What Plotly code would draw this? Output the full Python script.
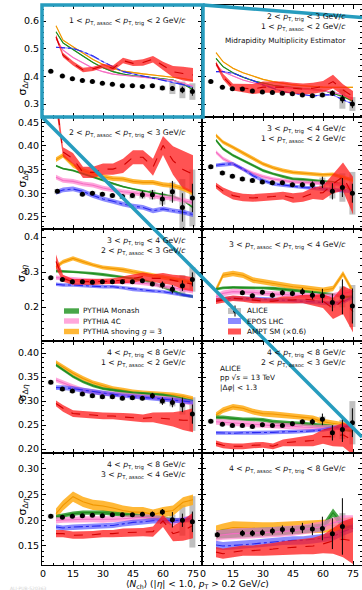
import plotly.graph_objects as go
from plotly.subplots import make_subplots

# ---------------- data ----------------
MODEL_X = [6.5, 10, 15, 20, 25, 30, 35, 40, 45, 50, 55, 60, 65, 70, 75]

X_FULL = [3.9, 9.7, 14.7, 19.7, 24.7, 29.7, 34.7, 39.7, 44.7, 49.7, 54.7, 59.7, 64.7, 69.7, 74.7]
X_MERGED_A = [7.2, 19.7, 24.7, 29.7, 34.7, 39.7, 44.7, 49.7, 54.7, 59.7, 64.7, 69.7, 74.7]
X_HIGH = [19.7, 24.7, 29.7, 34.7, 39.7, 44.7, 49.7, 54.7, 59.7, 64.7, 69.7, 74.7]
X_MERGED_B = [7.2, 19.7, 24.7, 29.7, 34.7, 39.7, 44.7, 49.7, 54.7, 59.7, 64.7, 69.7]

ALICE_X = [X_FULL, X_FULL, X_MERGED_A, X_FULL, X_FULL, X_HIGH, X_FULL, X_FULL, X_FULL, X_MERGED_B]

ALICE_Y = [
    [0.418, 0.401, 0.391, 0.385, 0.381, 0.375, 0.371, 0.366, 0.366, 0.363, 0.366, 0.358, 0.356, 0.351, 0.345],
    [0.381, 0.361, 0.355, 0.354, 0.347, 0.343, 0.342, 0.339, 0.337, 0.333, 0.330, 0.333, 0.339, 0.318, 0.300],
    [0.304, 0.298, 0.300, 0.298, 0.295, 0.293, 0.295, 0.297, 0.297, 0.288, 0.303, 0.270, 0.290],
    [0.356, 0.343, 0.336, 0.330, 0.327, 0.324, 0.322, 0.322, 0.318, 0.318, 0.318, 0.323, 0.304, 0.312, 0.300],
    [0.284, 0.279, 0.272, 0.272, 0.271, 0.272, 0.272, 0.272, 0.272, 0.275, 0.266, 0.263, 0.251, 0.261, 0.279],
    [0.241, 0.232, 0.242, 0.234, 0.241, 0.239, 0.244, 0.234, 0.232, 0.213, 0.229, 0.203],
    [0.339, 0.325, 0.321, 0.315, 0.311, 0.309, 0.309, 0.306, 0.307, 0.306, 0.311, 0.300, 0.297, 0.292, 0.273],
    [0.258, 0.252, 0.249, 0.249, 0.247, 0.251, 0.249, 0.249, 0.253, 0.257, 0.257, 0.262, 0.234, 0.241, 0.255],
    [0.208, 0.206, 0.208, 0.209, 0.210, 0.209, 0.211, 0.211, 0.211, 0.212, 0.212, 0.216, 0.201, 0.200, 0.197],
    [0.172, 0.175, 0.175, 0.176, 0.179, 0.182, 0.181, 0.185, 0.183, 0.184, 0.174, 0.188],
]
ALICE_STAT = [
    [0.002, 0.002, 0.002, 0.002, 0.002, 0.002, 0.003, 0.003, 0.003, 0.004, 0.005, 0.006, 0.008, 0.012, 0.015],
    [0.002, 0.002, 0.002, 0.002, 0.002, 0.002, 0.002, 0.003, 0.003, 0.004, 0.005, 0.007, 0.010, 0.015, 0.015],
    [0.003, 0.003, 0.003, 0.003, 0.003, 0.004, 0.005, 0.008, 0.010, 0.015, 0.023, 0.030, 0.030],
    [0.002, 0.002, 0.002, 0.002, 0.002, 0.002, 0.003, 0.003, 0.004, 0.005, 0.007, 0.012, 0.017, 0.020, 0.020],
    [0.002, 0.002, 0.002, 0.002, 0.002, 0.002, 0.002, 0.002, 0.002, 0.004, 0.006, 0.010, 0.012, 0.015, 0.020],
    [0.006, 0.006, 0.006, 0.007, 0.008, 0.008, 0.010, 0.012, 0.020, 0.025, 0.050, 0.050],
    [0.002, 0.002, 0.002, 0.002, 0.002, 0.002, 0.002, 0.002, 0.002, 0.004, 0.006, 0.008, 0.010, 0.015, 0.020],
    [0.002, 0.002, 0.002, 0.002, 0.002, 0.002, 0.002, 0.002, 0.002, 0.004, 0.006, 0.012, 0.016, 0.026, 0.030],
    [0.002, 0.002, 0.002, 0.002, 0.002, 0.002, 0.002, 0.002, 0.002, 0.002, 0.005, 0.006, 0.015, 0.013, 0.020],
    [0.005, 0.006, 0.006, 0.006, 0.007, 0.008, 0.008, 0.010, 0.012, 0.023, 0.030, 0.055],
]
ALICE_SYS = [
    [0.005, 0.004, 0.004, 0.004, 0.004, 0.004, 0.004, 0.004, 0.005, 0.005, 0.006, 0.008, 0.020, 0.030, 0.030],
    [0.005, 0.004, 0.004, 0.004, 0.004, 0.004, 0.004, 0.004, 0.005, 0.005, 0.006, 0.008, 0.010, 0.035, 0.025],
    [0.005, 0.004, 0.004, 0.004, 0.004, 0.005, 0.006, 0.008, 0.010, 0.012, 0.020, 0.060, 0.060],
    [0.004, 0.004, 0.004, 0.004, 0.004, 0.004, 0.004, 0.005, 0.005, 0.006, 0.007, 0.010, 0.015, 0.030, 0.045],
    [0.004, 0.004, 0.004, 0.004, 0.004, 0.004, 0.004, 0.004, 0.004, 0.004, 0.006, 0.008, 0.010, 0.030, 0.035],
    [0.005, 0.005, 0.005, 0.005, 0.005, 0.005, 0.006, 0.008, 0.010, 0.015, 0.030, 0.060],
    [0.004, 0.004, 0.004, 0.004, 0.004, 0.004, 0.004, 0.004, 0.004, 0.004, 0.005, 0.006, 0.008, 0.020, 0.035],
    [0.004, 0.004, 0.004, 0.004, 0.004, 0.004, 0.004, 0.004, 0.004, 0.004, 0.005, 0.006, 0.010, 0.020, 0.045],
    [0.004, 0.004, 0.004, 0.004, 0.004, 0.004, 0.004, 0.004, 0.004, 0.004, 0.005, 0.006, 0.010, 0.030, 0.050],
    [0.004, 0.004, 0.004, 0.004, 0.004, 0.005, 0.005, 0.006, 0.007, 0.008, 0.010, 0.026],
]

SHOVING = [
    [0.583, 0.531, 0.507, 0.485, 0.461, 0.443, 0.429, 0.419, 0.413, 0.409, 0.405, 0.401, 0.397, 0.392, 0.385],
    [0.486, 0.453, 0.429, 0.413, 0.401, 0.389, 0.381, 0.375, 0.369, 0.366, 0.363, 0.361, 0.360, 0.360, 0.360],
    [0.371, 0.380, 0.359, 0.348, 0.341, 0.335, 0.331, 0.330, 0.325, 0.323, 0.323, 0.318, 0.316, 0.310, 0.300],
    [0.422, 0.408, 0.397, 0.385, 0.373, 0.362, 0.354, 0.348, 0.344, 0.342, 0.341, 0.339, 0.340, 0.334, 0.327],
    [0.315, 0.329, 0.339, 0.329, 0.320, 0.313, 0.310, 0.307, 0.301, 0.296, 0.291, 0.287, 0.282, 0.275, 0.270],
    [0.249, 0.291, 0.296, 0.291, 0.277, 0.272, 0.267, 0.263, 0.258, 0.255, 0.251, 0.248, 0.253, 0.295, 0.244],
    [0.380, 0.371, 0.358, 0.347, 0.338, 0.332, 0.326, 0.323, 0.319, 0.317, 0.316, 0.315, 0.313, 0.310, 0.305],
    [0.271, 0.281, 0.288, 0.285, 0.278, 0.274, 0.273, 0.271, 0.269, 0.267, 0.264, 0.257, 0.254, 0.251, 0.247],
    [0.213, 0.229, 0.246, 0.236, 0.230, 0.228, 0.224, 0.219, 0.216, 0.216, 0.211, 0.216, 0.219, 0.235, 0.240],
    [0.178, 0.182, 0.186, 0.185, 0.184, 0.184, 0.184, 0.185, 0.186, 0.186, 0.187, 0.188, 0.190, 0.192, 0.195],
]
MONASH = [
    [0.561, 0.521, 0.497, 0.473, 0.450, 0.431, 0.417, 0.408, 0.402, 0.399, 0.395, 0.390, 0.387, 0.372, 0.352],
    [0.465, 0.435, 0.413, 0.397, 0.384, 0.375, 0.368, 0.363, 0.360, 0.357, 0.354, 0.349, 0.339, 0.327, 0.310],
    [0.358, 0.352, 0.348, 0.341, 0.334, 0.327, 0.320, 0.314, 0.309, 0.305, 0.302, 0.298, 0.293, 0.285, 0.270],
    [0.412, 0.394, 0.380, 0.369, 0.359, 0.348, 0.341, 0.335, 0.330, 0.329, 0.327, 0.326, 0.323, 0.318, 0.305],
    [0.303, 0.302, 0.301, 0.299, 0.296, 0.293, 0.289, 0.287, 0.282, 0.277, 0.268, 0.258, 0.246, 0.235, 0.230],
    [0.251, 0.255, 0.256, 0.256, 0.255, 0.255, 0.254, 0.251, 0.248, 0.245, 0.244, 0.240, 0.236, 0.229, 0.229],
    [0.375, 0.365, 0.351, 0.340, 0.332, 0.326, 0.323, 0.319, 0.317, 0.316, 0.315, 0.313, 0.309, 0.305, 0.300],
    [0.266, 0.266, 0.264, 0.262, 0.262, 0.261, 0.257, 0.255, 0.254, 0.253, 0.251, 0.249, 0.247, 0.243, 0.238],
    [0.207, 0.210, 0.213, 0.215, 0.215, 0.215, 0.213, 0.211, 0.209, 0.208, 0.206, 0.204, 0.200, 0.200, 0.200],
    [0.172, 0.174, 0.175, 0.176, 0.176, 0.177, 0.178, 0.179, 0.180, 0.182, 0.184, 0.186, 0.215, 0.190, 0.195],
]
PYTHIA_4C = [
    [0.537, 0.495, 0.468, 0.447, 0.429, 0.417, 0.408, 0.404, 0.400, 0.397, 0.393, 0.390, 0.385, 0.375, 0.365],
    [0.441, 0.417, 0.401, 0.387, 0.377, 0.369, 0.363, 0.360, 0.357, 0.354, 0.351, 0.349, 0.342, 0.333, 0.320],
    [0.334, 0.327, 0.325, 0.320, 0.317, 0.311, 0.307, 0.303, 0.301, 0.298, 0.295, 0.291, 0.290, 0.285, 0.280],
    [0.387, 0.373, 0.362, 0.351, 0.342, 0.335, 0.330, 0.327, 0.324, 0.323, 0.322, 0.321, 0.320, 0.317, 0.312],
    [0.284, 0.282, 0.279, 0.277, 0.275, 0.273, 0.272, 0.271, 0.271, 0.268, 0.265, 0.260, 0.256, 0.250, 0.245],
    [0.229, 0.239, 0.244, 0.244, 0.242, 0.239, 0.238, 0.237, 0.234, 0.232, 0.232, 0.229, 0.232, 0.239, 0.244],
    [0.344, 0.338, 0.330, 0.323, 0.319, 0.316, 0.315, 0.313, 0.311, 0.309, 0.308, 0.306, 0.304, 0.300, 0.295],
    [0.257, 0.256, 0.254, 0.253, 0.251, 0.250, 0.249, 0.249, 0.247, 0.246, 0.245, 0.244, 0.244, 0.246, 0.247],
    [0.200, 0.201, 0.201, 0.202, 0.202, 0.201, 0.202, 0.203, 0.205, 0.206, 0.205, 0.202, 0.196, 0.200, 0.205],
    [0.170, 0.172, 0.174, 0.175, 0.175, 0.176, 0.177, 0.178, 0.180, 0.182, 0.185, 0.188, 0.195, 0.200, 0.200],
]
EPOS = [
    [0.505, 0.503, 0.501, 0.489, 0.474, 0.453, 0.435, 0.417, 0.409, 0.401, 0.393, 0.387, 0.377, 0.370, 0.360],
    [0.417, 0.417, 0.411, 0.399, 0.385, 0.369, 0.357, 0.345, 0.339, 0.333, 0.329, 0.333, 0.333, 0.315, 0.300],
    [0.302, 0.307, 0.309, 0.304, 0.295, 0.288, 0.283, 0.277, 0.273, 0.270, 0.263, 0.267, 0.263, 0.260, 0.255],
    [0.359, 0.361, 0.362, 0.351, 0.337, 0.327, 0.320, 0.317, 0.314, 0.312, 0.311, 0.309, 0.307, 0.305, 0.304],
    [0.265, 0.263, 0.263, 0.261, 0.260, 0.258, 0.258, 0.255, 0.250, 0.248, 0.246, 0.244, 0.239, 0.235, 0.230],
    [0.220, 0.223, 0.225, 0.225, 0.223, 0.223, 0.221, 0.220, 0.219, 0.217, 0.215, 0.213, 0.210, 0.215, 0.229],
    [0.328, 0.328, 0.326, 0.323, 0.319, 0.316, 0.313, 0.311, 0.309, 0.308, 0.306, 0.304, 0.302, 0.300, 0.298],
    [0.234, 0.233, 0.233, 0.234, 0.234, 0.234, 0.235, 0.236, 0.236, 0.237, 0.238, 0.240, 0.244, 0.247, 0.249],
    [0.187, 0.185, 0.187, 0.188, 0.188, 0.189, 0.190, 0.193, 0.196, 0.197, 0.199, 0.199, 0.199, 0.200, 0.205],
    [0.152, 0.150, 0.151, 0.152, 0.154, 0.156, 0.158, 0.160, 0.161, 0.161, 0.163, 0.165, 0.168, 0.178, 0.185],
]
AMPT = [
    [0.543, 0.477, 0.447, 0.423, 0.427, 0.438, 0.429, 0.457, 0.447, 0.450, 0.462, 0.438, 0.417, 0.410, 0.405],
    [0.447, 0.399, 0.361, 0.357, 0.354, 0.361, 0.361, 0.361, 0.357, 0.354, 0.357, 0.363, 0.381, 0.351, 0.327],
    [0.500, 0.387, 0.373, 0.344, 0.344, 0.351, 0.351, 0.358, 0.376, 0.376, 0.355, 0.401, 0.369, 0.350, 0.340],
    [0.316, 0.305, 0.295, 0.291, 0.290, 0.291, 0.293, 0.295, 0.290, 0.292, 0.300, 0.301, 0.320, 0.335, 0.295],
    [0.330, 0.282, 0.272, 0.272, 0.271, 0.273, 0.274, 0.277, 0.282, 0.287, 0.282, 0.282, 0.277, 0.270, 0.265],
    [0.217, 0.220, 0.225, 0.223, 0.219, 0.217, 0.217, 0.220, 0.220, 0.223, 0.220, 0.217, 0.196, 0.220, 0.187],
    [0.295, 0.285, 0.274, 0.273, 0.271, 0.269, 0.269, 0.267, 0.266, 0.264, 0.266, 0.264, 0.262, 0.260, 0.260],
    [0.212, 0.208, 0.206, 0.206, 0.208, 0.209, 0.206, 0.213, 0.215, 0.216, 0.218, 0.226, 0.226, 0.230, 0.218],
    [0.174, 0.174, 0.171, 0.171, 0.172, 0.174, 0.174, 0.176, 0.176, 0.177, 0.178, 0.199, 0.174, 0.180, 0.190],
    [0.138, 0.135, 0.138, 0.141, 0.141, 0.142, 0.144, 0.146, 0.147, 0.149, 0.150, 0.154, 0.160, 0.163, 0.160],
]
AMPT_ERR = [
    [0.008, 0.008, 0.008, 0.008, 0.008, 0.008, 0.010, 0.010, 0.010, 0.012, 0.012, 0.015, 0.020, 0.025, 0.025],
    [0.008, 0.010, 0.012, 0.015, 0.018, 0.020, 0.020, 0.020, 0.020, 0.020, 0.020, 0.020, 0.025, 0.020, 0.020],
    [0.020, 0.010, 0.012, 0.012, 0.012, 0.012, 0.012, 0.015, 0.015, 0.015, 0.018, 0.020, 0.030, 0.040, 0.040],
    [0.006, 0.007, 0.008, 0.008, 0.008, 0.008, 0.008, 0.008, 0.010, 0.010, 0.012, 0.015, 0.020, 0.030, 0.040],
    [0.020, 0.010, 0.008, 0.008, 0.008, 0.008, 0.008, 0.010, 0.012, 0.012, 0.012, 0.015, 0.015, 0.020, 0.020],
    [0.008, 0.008, 0.008, 0.008, 0.008, 0.008, 0.008, 0.010, 0.010, 0.012, 0.015, 0.020, 0.030, 0.040, 0.060],
    [0.006, 0.007, 0.007, 0.007, 0.007, 0.007, 0.007, 0.008, 0.008, 0.008, 0.010, 0.012, 0.015, 0.020, 0.025],
    [0.006, 0.006, 0.006, 0.006, 0.006, 0.006, 0.006, 0.007, 0.008, 0.010, 0.012, 0.015, 0.020, 0.025, 0.030],
    [0.007, 0.007, 0.007, 0.007, 0.007, 0.007, 0.007, 0.008, 0.008, 0.008, 0.010, 0.012, 0.015, 0.020, 0.025],
    [0.010, 0.010, 0.010, 0.010, 0.010, 0.011, 0.012, 0.013, 0.014, 0.015, 0.016, 0.018, 0.025, 0.035, 0.045],
]
SHOVING_ERR = [0.002, 0.002, 0.005, 0.004, 0.006, 0.008, 0.005, 0.006, 0.010, 0.012]
MONASH_ERR = [0.002, 0.002, 0.002, 0.003, 0.004, 0.004, 0.003, 0.004, 0.004, 0.008]
PYTHIA_4C_ERR = [0.002, 0.002, 0.005, 0.004, 0.006, 0.008, 0.005, 0.006, 0.006, 0.010]
EPOS_ERR = [0.002, 0.002, 0.005, 0.004, 0.005, 0.006, 0.005, 0.004, 0.005, 0.008]

X_TICKS = [0, 15, 30, 45, 60, 75]
ROW_YRANGE = [[0.253, 0.658], [0.2245, 0.461], [0.103, 0.423], [0.192, 0.425], [0.113, 0.331]]
ROW_DTICK = [0.1, 0.05, 0.1, 0.05, 0.05]

# ---------------- styling ----------------
FONT = "DejaVu Sans"
MODELS = [
    ("PYTHIA shoving", SHOVING, SHOVING_ERR, "rgba(255,172,20,0.85)", "rgb(240,150,0)", "solid"),
    ("PYTHIA Monash", MONASH, MONASH_ERR, "rgba(40,150,40,0.85)", "rgb(30,140,30)", "solid"),
    ("PYTHIA 4C", PYTHIA_4C, PYTHIA_4C_ERR, "rgba(255,130,205,0.7)", "rgb(245,110,195)", "solid"),
    ("EPOS LHC", EPOS, EPOS_ERR, "rgba(60,60,255,0.6)", "rgb(40,40,240)", "dashdot"),
    ("AMPT SM", AMPT, AMPT_ERR, "rgba(255,25,25,0.75)", "rgb(210,0,0)", "dash"),
]

fig = make_subplots(rows=5, cols=2, shared_xaxes=True, shared_yaxes=True,
                    horizontal_spacing=0, vertical_spacing=0)

for p in range(10):
    row, col = p // 2 + 1, p % 2 + 1
    for name, centers, errs, fillc, linec, dash in MODELS:
        c = centers[p]
        e = errs[p]
        ew = e if isinstance(e, list) else [e] * len(c)
        up = [a + b for a, b in zip(c, ew)]
        lo = [a - b for a, b in zip(c, ew)]
        fig.add_trace(go.Scatter(x=MODEL_X + MODEL_X[::-1], y=up + lo[::-1], fill="toself",
                                 fillcolor=fillc, line=dict(width=0), mode="lines",
                                 hoverinfo="skip", showlegend=False), row=row, col=col)
        fig.add_trace(go.Scatter(x=MODEL_X, y=c, mode="lines",
                                 line=dict(color=linec, width=1.1, dash=dash),
                                 name=name, showlegend=False), row=row, col=col)
    ys = ALICE_Y[p]
    sy = ALICE_SYS[p]
    fig.add_trace(go.Bar(x=ALICE_X[p], y=[2 * s for s in sy], base=[a - s for a, s in zip(ys, sy)],
                         width=3, marker=dict(color="rgba(150,150,150,0.6)", line=dict(width=0)),
                         showlegend=False, hoverinfo="skip"), row=row, col=col)
    fig.add_trace(go.Scatter(x=ALICE_X[p], y=ys, mode="markers", name="ALICE",
                             marker=dict(color="black", size=5),
                             error_y=dict(type="data", array=ALICE_STAT[p], color="black",
                                          thickness=1, width=0),
                             showlegend=False), row=row, col=col)

axis_common = dict(ticks="inside", ticklen=4, tickwidth=0.8, tickcolor="black",
                   showline=True, linecolor="black", linewidth=1, mirror="ticks",
                   showgrid=False, zeroline=False,
                   tickfont=dict(family=FONT, size=9.5, color="black"))
for r in range(1, 6):
    for c in (1, 2):
        fig.update_yaxes(range=ROW_YRANGE[r - 1], dtick=ROW_DTICK[r - 1],
                         tickformat=".1f" if ROW_DTICK[r - 1] == 0.1 else ".2f",
                         minor=dict(ticks="inside", ticklen=2, dtick=ROW_DTICK[r - 1] / 5,
                                    tickcolor="black"),
                         row=r, col=c, **axis_common)
        fig.update_xaxes(range=[-0.5, 79.5], tickvals=X_TICKS,
                         minor=dict(ticks="inside", ticklen=2, dtick=5, tickcolor="black"),
                         row=r, col=c, **axis_common)

# ---------------- text ----------------
L, T, W, H = 42, 5, 320, 560
def PX(x):
    return (x - L) / W
def PY(y):
    return 1 - (y - T) / H

def pt(s):
    return "<i>p</i><sub>T, " + s + "</sub>"
GEV = "GeV/<i>c</i>"

LABELS = [
    f"1 < {pt('assoc')} < {pt('trig')} < 2 {GEV}",
    f"2 < {pt('trig')} < 3 {GEV}<br>1 < {pt('assoc')} < 2 {GEV}",
    f"2 < {pt('assoc')} < {pt('trig')} < 3 {GEV}",
    f"3 < {pt('trig')} < 4 {GEV}<br>1 < {pt('assoc')} < 2 {GEV}",
    f"3 < {pt('trig')} < 4 {GEV}<br>2 < {pt('assoc')} < 3 {GEV}",
    f"3 < {pt('assoc')} < {pt('trig')} < 4 {GEV}",
    f"4 < {pt('trig')} < 8 {GEV}<br>1 < {pt('assoc')} < 2 {GEV}",
    f"4 < {pt('trig')} < 8 {GEV}<br>2 < {pt('assoc')} < 3 {GEV}",
    f"4 < {pt('trig')} < 8 {GEV}<br>3 < {pt('assoc')} < 4 {GEV}",
    f"4 < {pt('assoc')} < {pt('trig')} < 8 {GEV}",
]
tfont = dict(family=FONT, size=7.7, color="#111")
sfont = dict(family=FONT, size=7.3, color="#111")
ann = []
for p, txt in enumerate(LABELS):
    sfx = "" if p == 0 else str(p + 1)
    ann.append(dict(text=txt, x=0.91, y=0.85, xref=f"x{sfx} domain", yref=f"y{sfx} domain",
                    xanchor="right", yanchor="middle", align="right", showarrow=False, font=tfont))
ann.append(dict(text="Midrapidity Multiplicity Estimator", x=0.91, y=0.68, xref="x2 domain",
                yref="y2 domain", xanchor="right", yanchor="middle", showarrow=False, font=sfont))
ann.append(dict(text="ALICE<br>pp √<i>s</i> = 13 TeV<br>|Δ<i>φ</i>| < 1.3", x=0.10, y=0.67,
                xref="x8 domain", yref="y8 domain", xanchor="left", yanchor="middle",
                align="left", showarrow=False, font=sfont))
for yc in [77, 169, 274, 404, 518]:
    ann.append(dict(text="σ<sub>Δ<i>η</i></sub>", x=PX(13), y=PY(yc), xref="paper", yref="paper",
                    textangle=-90, showarrow=False, font=dict(family=FONT, size=11, color="black")))
ann.append(dict(text="⟨<i>N</i><sub>ch</sub>⟩ (|<i>η</i>| < 1.0, <i>p</i><sub>T</sub> > 0.2 GeV/<i>c</i>)",
                x=PX(197), y=PY(584.5), xref="paper", yref="paper", xanchor="center", yanchor="middle",
                showarrow=False, font=dict(family=FONT, size=9, color="black")))
ann.append(dict(text="ALI-PUB-520363", x=PX(8), y=PY(588.5), xref="paper", yref="paper",
                xanchor="left", yanchor="middle", showarrow=False,
                font=dict(family=FONT, size=4.5, color="#d4d4d4")))

# legends drawn by hand
shapes = []
LEG1 = [("PYTHIA Monash", "rgba(40,150,40,0.85)", 311),
        ("PYTHIA 4C", "rgba(255,130,205,0.7)", 321),
        ("PYTHIA shoving <i>g</i> = 3", "rgba(255,172,20,0.85)", 331.5)]
for txt, colr, yc in LEG1:
    shapes.append(dict(type="rect", xref="paper", yref="paper", x0=PX(64), x1=PX(79),
                       y0=PY(yc + 2.7), y1=PY(yc - 2.7), fillcolor=colr, line=dict(width=0)))
    ann.append(dict(text=txt, x=PX(80.5), y=PY(yc), xref="paper", yref="paper", xanchor="left",
                    yanchor="middle", showarrow=False, font=sfont))
LEG2 = [("ALICE", "rgba(150,150,150,0.6)", 311),
        ("EPOS LHC", "rgba(60,60,255,0.6)", 321),
        ("AMPT SM (×0.6)", "rgba(255,25,25,0.75)", 331.5)]
for txt, colr, yc in LEG2:
    shapes.append(dict(type="rect", xref="paper", yref="paper", x0=PX(228), x1=PX(241),
                       y0=PY(yc + 3), y1=PY(yc - 3), fillcolor=colr, line=dict(width=0)))
    ann.append(dict(text=txt, x=PX(244.5), y=PY(yc), xref="paper", yref="paper", xanchor="left",
                    yanchor="middle", showarrow=False, font=sfont))
shapes.append(dict(type="line", xref="paper", yref="paper", x0=PX(235), x1=PX(235),
                   y0=PY(316.5), y1=PY(305.5), line=dict(color="black", width=1)))
shapes.append(dict(type="circle", xref="paper", yref="paper", x0=PX(233), x1=PX(237),
                   y0=PY(313), y1=PY(309), fillcolor="black", line=dict(width=0)))

# cyan zoom overlay
CYAN = "rgb(38,156,190)"
shapes.append(dict(type="rect", xref="paper", yref="paper", x0=PX(42), x1=PX(203),
                   y0=PY(117), y1=PY(5), line=dict(color=CYAN, width=3.5)))
shapes.append(dict(type="line", xref="paper", yref="paper", x0=PX(203), y0=PY(5),
                   x1=PX(362), y1=PY(17.5), line=dict(color=CYAN, width=3.5)))
shapes.append(dict(type="line", xref="paper", yref="paper", x0=PX(42), y0=PY(117),
                   x1=PX(362), y1=PY(437), line=dict(color=CYAN, width=3.5)))

fig.update_layout(width=362, height=590, margin=dict(l=L, r=0, t=T, b=25, autoexpand=False),
                  plot_bgcolor="white", paper_bgcolor="white", barmode="overlay",
                  showlegend=False, annotations=ann, shapes=shapes,
                  font=dict(family=FONT, color="black"))
fig.write_html("out.html")
